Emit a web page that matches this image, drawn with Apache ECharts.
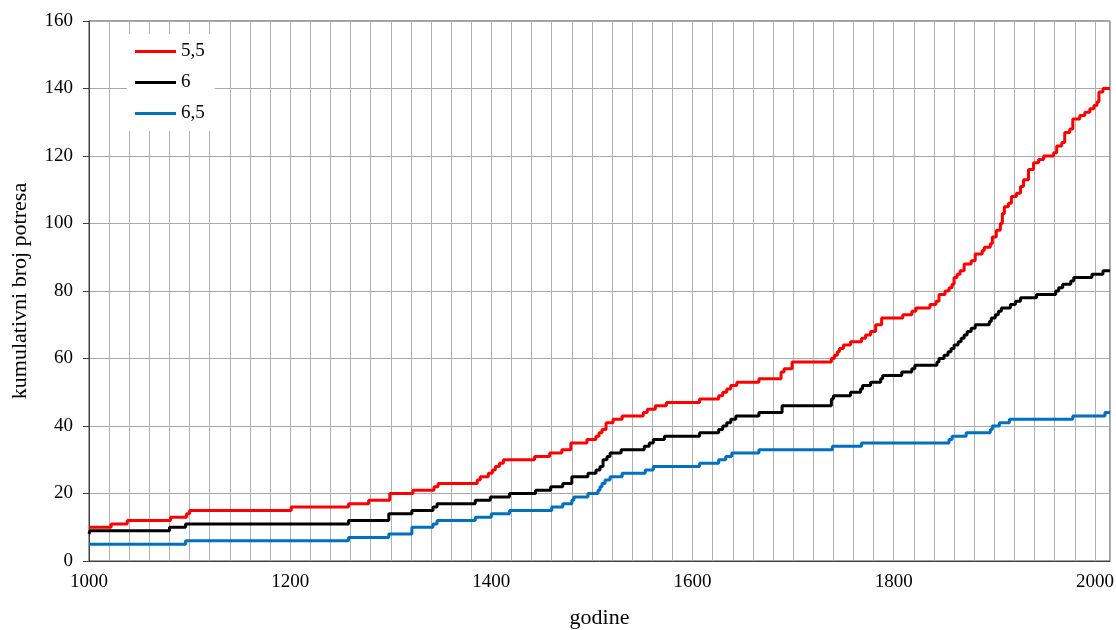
<!DOCTYPE html>
<html>
<head>
<meta charset="utf-8">
<script src="https://cdn.jsdelivr.net/npm/echarts@6/dist/echarts.min.js"></script>
<style>
html,body{margin:0;padding:0;background:#fff;}
#chart{width:1116px;height:630px;}
</style>
</head>
<body>
<div id="chart"></div>
<script>
// Cumulative number of earthquakes: [year, cumulative count] at each step
const seriesNames = ['5,5', '6', '6,5'];

const m55 = [[1000,10],[1022,11],[1038,12],[1081,13],[1097,14],[1100,15],[1201,16],[1258,17],[1278,18],[1299,20],[1322,21],[1343,22],[1347,23],[1386,24],[1389,25],[1397,26],[1401,27],[1404,28],[1408,29],[1412,30],[1443,31],[1458,32],[1470,33],[1479,35],[1495,36],[1504,37],[1507,38],[1510,39],[1514,41],[1521,42],[1530,43],[1551,44],[1555,45],[1563,46],[1574,47],[1607,48],[1626,49],[1630,50],[1634,51],[1638,52],[1644,53],[1666,54],[1688,56],[1691,57],[1699,59],[1738,60],[1741,61],[1744,62],[1746,63],[1750,64],[1757,65],[1768,66],[1772,67],[1777,68],[1782,70],[1788,72],[1809,73],[1818,74],[1822,75],[1836,76],[1842,77],[1845,79],[1851,80],[1855,81],[1858,82],[1860,84],[1863,85],[1866,86],[1870,88],[1877,89],[1881,91],[1888,92],[1890,93],[1896,94],[1898,96],[1902,98],[1906,100],[1908,103],[1910,105],[1914,106],[1917,108],[1922,109],[1926,111],[1929,113],[1934,116],[1939,118],[1944,119],[1949,120],[1959,121],[1962,123],[1967,124],[1970,127],[1975,128],[1978,131],[1985,132],[1990,133],[1995,134],[1999,135],[2002,136],[2004,139],[2008,140],[2015,140]];

const m60 = [[1000,8],[1001,9],[1080,10],[1096,11],[1258,12],[1298,14],[1321,15],[1342,16],[1346,17],[1384,18],[1399,19],[1418,20],[1444,21],[1459,22],[1471,23],[1480,25],[1496,26],[1504,27],[1508,28],[1511,30],[1515,31],[1518,32],[1529,33],[1552,34],[1557,35],[1561,36],[1572,37],[1607,38],[1626,39],[1630,40],[1634,41],[1638,42],[1643,43],[1666,44],[1689,46],[1738,48],[1740,49],[1757,50],[1767,51],[1769,52],[1777,53],[1787,54],[1789,55],[1808,56],[1818,57],[1821,58],[1843,59],[1845,60],[1850,61],[1854,62],[1857,63],[1860,64],[1864,65],[1867,66],[1870,67],[1873,68],[1877,69],[1881,70],[1895,71],[1897,72],[1901,73],[1904,74],[1907,75],[1916,76],[1921,77],[1926,78],[1942,79],[1961,80],[1964,81],[1968,82],[1976,83],[1979,84],[1997,85],[2008,86],[2015,86]];

const m65 = [[1000,5],[1096,6],[1258,7],[1298,8],[1321,10],[1342,11],[1346,12],[1384,13],[1400,14],[1418,15],[1460,16],[1471,17],[1480,18],[1482,19],[1496,20],[1506,21],[1508,22],[1510,23],[1513,24],[1518,25],[1530,26],[1553,27],[1561,28],[1607,29],[1626,30],[1633,31],[1639,32],[1666,33],[1739,34],[1768,35],[1855,36],[1858,37],[1872,38],[1896,39],[1898,40],[1905,41],[1915,42],[1978,43],[2010,44],[2015,44]];

const xLabelStep = 200;
const FONT = '"Liberation Serif", "Times New Roman", serif';

const chart = echarts.init(document.getElementById('chart'), null, {renderer: 'canvas'});
const colors = ['#FF0000', '#000000', '#0070C0'];
const datasets = [m55, m60, m65];

chart.setOption({
  animation: false,
  backgroundColor: '#ffffff',
  color: colors,
  textStyle: {fontFamily: FONT},
  grid: {left: 89, right: 6, top: 21, bottom: 69, outerBoundsMode: 'none', containLabel: false, show: true, borderColor: '#404040', borderWidth: 1, backgroundColor: 'transparent'},
  legend: {
    orient: 'vertical',
    left: 127, top: 34,
    padding: [8, 10, 8, 8],
    backgroundColor: '#ffffff',
    icon: 'rect',
    itemWidth: 41, itemHeight: 3, itemGap: 12,
    data: seriesNames,
    textStyle: {fontFamily: FONT, fontSize: 19, color: '#000'}
  },
  xAxis: {
    type: 'value', min: 1000, max: 2015, interval: 20,
    name: 'godine', nameLocation: 'middle', nameGap: 46,
    nameTextStyle: {fontFamily: FONT, fontSize: 22, color: '#000'},
    axisLine: {show: true, lineStyle: {color: '#404040', width: 1}},
    axisTick: {show: false},
    axisLabel: {
      fontFamily: FONT, fontSize: 19, color: '#000', margin: 12,
      formatter: function (v) { return (v % xLabelStep === 0) ? String(v) : ''; }
    },
    splitLine: {show: true, lineStyle: {color: '#b0b0b0', width: 1}}
  },
  yAxis: {
    type: 'value', min: 0, max: 160, interval: 20,
    name: 'kumulativni broj potresa', nameLocation: 'middle', nameGap: 58,
    nameTextStyle: {fontFamily: FONT, fontSize: 22, color: '#000'},
    axisLine: {show: true, lineStyle: {color: '#404040', width: 1}},
    axisTick: {show: true, length: 6, inside: false, lineStyle: {color: '#404040'}},
    axisLabel: {fontFamily: FONT, fontSize: 19, color: '#000', margin: 16},
    splitLine: {show: true, lineStyle: {color: '#a8a8a8', width: 1}}
  },
  series: seriesNames.map(function (n, i) {
    return {
      name: n, type: 'line', step: 'end', symbol: 'none',
      data: datasets[i],
      lineStyle: {width: 3, color: colors[i]},
      itemStyle: {color: colors[i]},
      z: 10 - i
    };
  })
});
</script>
</body>
</html>
